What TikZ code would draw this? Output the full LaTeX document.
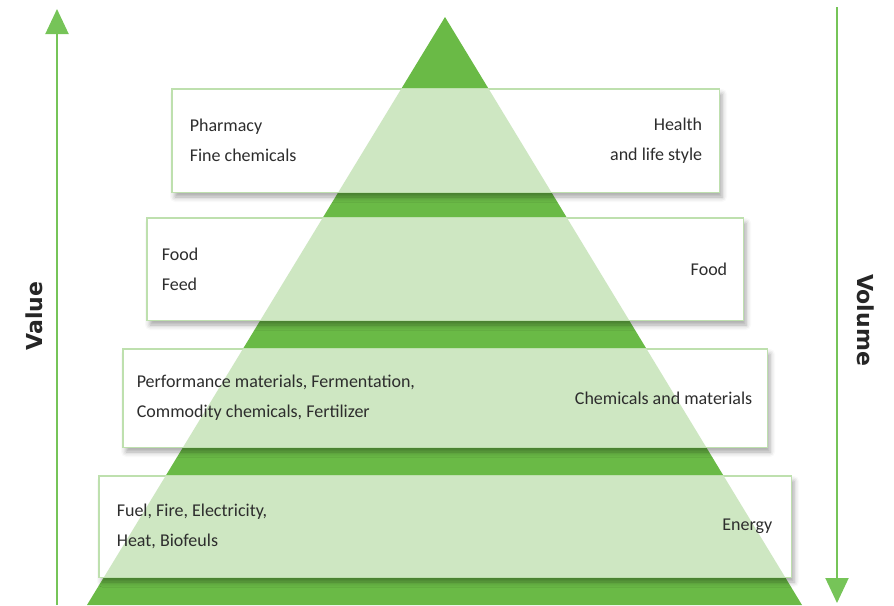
\documentclass[tikz,border=0pt]{standalone}
\usepackage{fontspec}
\setmainfont{Carlito}
\newfontfamily\axisfont{DejaVu Sans}
\usepackage{xcolor}
\usetikzlibrary{arrows.meta, shadows.blur, positioning}

\definecolor{pyrgreen}{RGB}{106,186,70}
\definecolor{pyrlight}{RGB}{206,231,194}
\definecolor{boxline}{RGB}{190,224,174}
\definecolor{arrgreen}{RGB}{118,196,88}
\definecolor{txtgrey}{RGB}{45,45,45}

\begin{document}
\begin{tikzpicture}[x=1pt, y=-1pt,
  layer/.style={draw=boxline, line width=0.8pt, fill=white, inner sep=0pt,
    blur shadow={shadow xshift=3pt, shadow yshift=-5pt, shadow blur radius=5pt, shadow opacity=35}},
  ltext/.style={align=left, text=txtgrey, inner sep=0pt, font=\fontsize{18}{30}\selectfont},
  rtext/.style={align=right, text=txtgrey, inner sep=0pt, font=\fontsize{18}{30}\selectfont},
  axisarrow/.style={draw=arrgreen, line width=2pt, -{Triangle[width=23pt,length=25pt]}},
  axislabel/.style={text=black!85, font=\axisfont\bfseries\fontsize{22}{24}\selectfont}]
\useasboundingbox (0,0) rectangle (894,605);

% pyramid
\coordinate (apex) at (445,17);
\coordinate (bl) at (87,605);
\coordinate (br) at (802,605);
\fill[pyrgreen] (apex) -- (bl) -- (br) -- cycle;

% layers
\node[layer, minimum width=547pt, minimum height=103pt] (health) at (445.5,140.5) {};
\node[layer, minimum width=596pt, minimum height=102pt] (food) at (445,269) {};
\node[layer, minimum width=644pt, minimum height=98pt] (chem) at (445,398) {};
\node[layer, minimum width=692pt, minimum height=101pt] (energy) at (445,526.5) {};

\begin{scope}
\clip (health.north west) rectangle (health.south east)
      (food.north west) rectangle (food.south east)
      (chem.north west) rectangle (chem.south east)
      (energy.north west) rectangle (energy.south east);
\fill[pyrlight] (apex) -- (bl) -- (br) -- cycle;
\end{scope}
\foreach \b in {health,food,chem,energy}
  \draw[boxline, line width=0.8pt] (\b.north west) rectangle (\b.south east);

% texts
\node[ltext, right=18pt of health.west] (pharm) {Pharmacy\\Fine chemicals};
\node[rtext, left=17pt of health.east] (hls) {Health\\and life style};
\node[ltext, right=15pt of food.west] (feed) {Food\\Feed};
\node[rtext, left=16pt of food.east] (foodr) {Food};
\node[ltext, right=14pt of chem.west] (perf) {Performance materials, Fermentation,\\Commodity chemicals, Fertilizer};
\node[rtext, left=15pt of chem.east] (chemr) {Chemicals and materials};
\node[ltext, right=18pt of energy.west] (fuel) {Fuel, Fire, Electricity,\\Heat, Biofeuls};
\node[rtext, left=19pt of energy.east] (energyr) {Energy};

% axes
\coordinate (vbot) at (57,605);
\coordinate (vtop) at (57,9);
\coordinate (wtop) at (837,7);
\coordinate (wbot) at (837,603);
\draw[axisarrow] (vbot) -- (vtop);
\draw[axisarrow] (wtop) -- (wbot);
\node[axislabel, rotate=90] (value) at (34,316) {Value};
\node[axislabel, rotate=-90] (volume) at (866,320) {Volume};
\end{tikzpicture}
\end{document}
